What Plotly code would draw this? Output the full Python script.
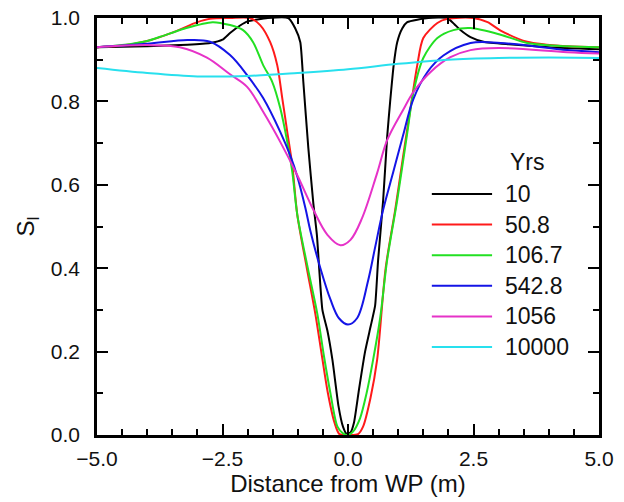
import plotly.graph_objects as go

# ---- data ----
names = ["10", "50.8", "106.7", "542.8", "1056", "10000"]
colors = ["#000000", "#ff1a1a", "#22e022", "#1414e6", "#e632c8", "#28e0ee"]

x10 = [-5.0, -4.0, -3.2, -2.75, -2.5, -2.35, -2.15, -2.0, -1.6, -1.19, -1.05, -0.95, -0.89, -0.79, -0.69,
       -0.62, -0.51, -0.41, -0.31, -0.19, -0.1, -0.03, 0.05, 0.12, 0.22, 0.34, 0.45, 0.54, 0.60, 0.70,
       0.78, 0.84, 0.91, 0.98, 1.08, 1.18, 1.6, 1.98, 2.12, 2.24, 2.44, 2.7, 3.2, 4.0, 5.0]
y10 = [0.930, 0.932, 0.936, 0.940, 0.948, 0.964, 0.982, 0.992, 1.0, 1.0, 0.975, 0.942, 0.847, 0.688, 0.555,
       0.48, 0.30, 0.25, 0.18, 0.07, 0.02, 0.003, 0.006, 0.03, 0.11, 0.20, 0.26, 0.31, 0.42, 0.563,
       0.715, 0.80, 0.887, 0.942, 0.975, 0.99, 1.0, 1.0, 0.985, 0.971, 0.954, 0.943, 0.937, 0.93, 0.925]

x50 = [-5.0, -4.5, -4.0, -3.5, -3.0, -2.75, -2.35, -1.95, -1.75, -1.55, -1.41, -1.31, -1.21, -1.11, -1.01,
       -0.82, -0.65, -0.52, -0.40, -0.27, -0.17, 0.0, 0.2, 0.3, 0.45, 0.58, 0.75, 0.94, 1.10, 1.24,
       1.38, 1.50, 1.78, 1.98, 2.5, 2.78, 3.04, 3.57, 4.37, 5.0]
y50 = [0.930, 0.934, 0.945, 0.965, 0.99, 0.998, 1.0, 1.0, 0.983, 0.942, 0.887, 0.808, 0.727, 0.647, 0.528,
       0.40, 0.29, 0.19, 0.10, 0.03, 0.002, 0.0, 0.002, 0.02, 0.09, 0.18, 0.40, 0.54, 0.67, 0.78,
       0.887, 0.952, 0.988, 0.998, 1.0, 0.99, 0.97, 0.943, 0.932, 0.93]

x106 = [-5.0, -4.5, -4.0, -3.74, -3.25, -2.7, -2.35, -2.09, -1.89, -1.69, -1.51, -1.35, -1.21, -1.11, -1.01,
        -0.8, -0.61, -0.48, -0.35, -0.21, -0.1, 0.0, 0.1, 0.24, 0.37, 0.5, 0.64, 0.78, 0.98, 1.18,
        1.30, 1.50, 1.78, 2.10, 2.44, 3.04, 3.57, 4.37, 5.0]
y106 = [0.930, 0.935, 0.945, 0.955, 0.975, 0.99, 0.983, 0.971, 0.942, 0.887, 0.847, 0.784, 0.703, 0.631, 0.528,
        0.40, 0.29, 0.19, 0.10, 0.02, 0.004, 0.0, 0.008, 0.04, 0.10, 0.18, 0.28, 0.42, 0.563, 0.724,
        0.82, 0.904, 0.952, 0.971, 0.976, 0.96, 0.94, 0.932, 0.93]

x542 = [-5.0, -4.0, -3.2, -2.75, -2.35, -2.01, -1.69, -1.35, -1.15, -1.01, -0.85, -0.75, -0.55, -0.35, -0.18,
        0.0, 0.18, 0.4, 0.54, 0.70, 0.90, 1.10, 1.30, 1.58, 1.90, 2.44, 3.04, 4.37, 5.0]
y542 = [0.930, 0.938, 0.947, 0.943, 0.911, 0.863, 0.808, 0.727, 0.67, 0.62, 0.545, 0.49, 0.40, 0.325, 0.28,
        0.265, 0.28, 0.37, 0.45, 0.54, 0.63, 0.72, 0.805, 0.87, 0.91, 0.94, 0.94, 0.923, 0.918]

x1056 = [-5.0, -4.0, -3.35, -2.81, -2.35, -2.01, -1.69, -1.35, -1.01, -0.69, -0.41, -0.15, 0.05, 0.28, 0.58,
         0.78, 1.10, 1.30, 1.64, 2.04, 2.44, 3.0, 4.37, 5.0]
y1056 = [0.930, 0.935, 0.93, 0.905, 0.865, 0.835, 0.775, 0.703, 0.623, 0.54, 0.48, 0.455, 0.468, 0.52, 0.628,
         0.707, 0.78, 0.822, 0.87, 0.906, 0.923, 0.928, 0.918, 0.915]

x10000 = [-5.0, -4.0, -3.0, -2.0, -1.0, 0.0, 1.0, 2.0, 3.0, 4.0, 5.0]
y10000 = [0.880, 0.868, 0.860, 0.861, 0.868, 0.877, 0.890, 0.900, 0.904, 0.905, 0.904]

xs = [x10, x50, x106, x542, x1056, x10000]
ys = [y10, y50, y106, y542, y1056, y10000]
smooth = [0.5, 0.8, 0.8, 1.0, 1.0, 1.0]

x_tickvals = [-5.0, -2.5, 0.0, 2.5, 5.0]
y_tickvals = [0.0, 0.2, 0.4, 0.6, 0.8, 1.0]
legend_title = "Yrs"

FONT = "Liberation Sans, Arial, Helvetica, sans-serif"

fig = go.Figure()
for name, col, xv, yv, sm in zip(names, colors, xs, ys, smooth):
    fig.add_trace(go.Scatter(x=xv, y=yv, mode="lines", name=name,
                             line=dict(color=col, width=2, shape="spline", smoothing=sm),
                             showlegend=False))

# manual legend (long line samples, as in reference)
L0, L1, TX = 0.667, 0.787, 0.808
row0, rowstep = (435 - 194) / 417, 30.6 / 417
shapes, annots = [], []
for i, (name, col) in enumerate(zip(names, colors)):
    yy = row0 - i * rowstep
    shapes.append(dict(type="line", xref="paper", yref="paper", x0=L0, x1=L1, y0=yy, y1=yy,
                       line=dict(color=col, width=2)))
    annots.append(dict(xref="paper", yref="paper", x=TX, y=yy, text=name, showarrow=False,
                       xanchor="left", yanchor="middle", font=dict(size=23, color="#111", family=FONT)))
annots.append(dict(xref="paper", yref="paper", x=0.818, y=(435 - 162) / 417, text=legend_title,
                   showarrow=False, xanchor="left", yanchor="middle",
                   font=dict(size=23, color="#111", family=FONT)))

axis_common = dict(showline=True, linecolor="black", linewidth=2.5, mirror="ticks",
                   ticks="inside", ticklen=11, tickwidth=2, tickcolor="black",
                   showgrid=False, zeroline=False, automargin=False,
                   tickfont=dict(size=21, family=FONT, color="#111"))

fig.update_layout(
    width=624, height=502,
    margin=dict(l=97, r=25, t=18, b=67),
    paper_bgcolor="white", plot_bgcolor="white",
    font=dict(family=FONT, color="#111"),
    shapes=shapes, annotations=annots,
    xaxis=dict(range=[-5, 5], tickvals=x_tickvals, tickformat=".1f",
               minor=dict(dtick=0.5, ticks="inside", ticklen=6, tickwidth=2, tickcolor="black"),
               ticklabelstandoff=3,
               title=dict(text="Distance from WP (m)", font=dict(size=24, family=FONT, color="#111"),
                          standoff=4),
               **axis_common),
    yaxis=dict(range=[0, 1], tickvals=y_tickvals, tickformat=".1f",
               minor=dict(dtick=0.1, ticks="inside", ticklen=6, tickwidth=2, tickcolor="black"),
               ticklabelstandoff=10,
               title=dict(text="S<sub>l</sub>", font=dict(size=24, family=FONT, color="#111"),
                          standoff=10),
               **axis_common),
)

fig.write_html("out.html", config={"displayModeBar": False},
               post_script="document.body.style.margin='0px';document.body.style.overflow='hidden';")
